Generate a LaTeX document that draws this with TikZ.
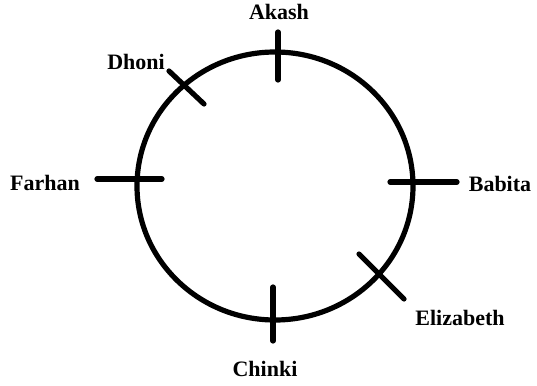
\documentclass[tikz,border=0pt]{standalone}
\usepackage{fontspec}
\setmainfont{Liberation Serif}
\begin{document}
\begin{tikzpicture}[x=1pt,y=-1pt,
  ring/.style={line width=5.2pt},
  tickline/.style={line width=5.2pt,line cap=round},
  lbl/.style={font=\fontsize{22}{24}\selectfont\bfseries,inner sep=0pt}]
\useasboundingbox (0,0) rectangle (537,385);
\draw[ring] (275,186) ellipse [x radius=138, y radius=134];
% tick ends
\coordinate (a1) at (278,32); \coordinate (a2) at (278,80);
\coordinate (d1) at (169,71); \coordinate (d2) at (204,104);
\coordinate (f1) at (97,179); \coordinate (f2) at (162,179);
\coordinate (b1) at (390,182); \coordinate (b2) at (457,182);
\coordinate (e1) at (359,254); \coordinate (e2) at (404,299);
\coordinate (c1) at (273,287); \coordinate (c2) at (273,341);
\draw[tickline] (a1) -- (a2);
\draw[tickline] (d1) -- (d2);
\draw[tickline] (f1) -- (f2);
\draw[tickline] (b1) -- (b2);
\draw[tickline] (e1) -- (e2);
\draw[tickline] (c1) -- (c2);
\node[lbl] (akash) at (279,12) {Akash};
\node[lbl] (dhoni) at (136,62) {Dhoni};
\node[lbl] (farhan) at (45,183) {Farhan};
\node[lbl] (babita) at (500,184) {Babita};
\node[lbl] (eliz) at (460,318) {Elizabeth};
\node[lbl] (chinki) at (265,369) {Chinki};
\end{tikzpicture}
\end{document}
